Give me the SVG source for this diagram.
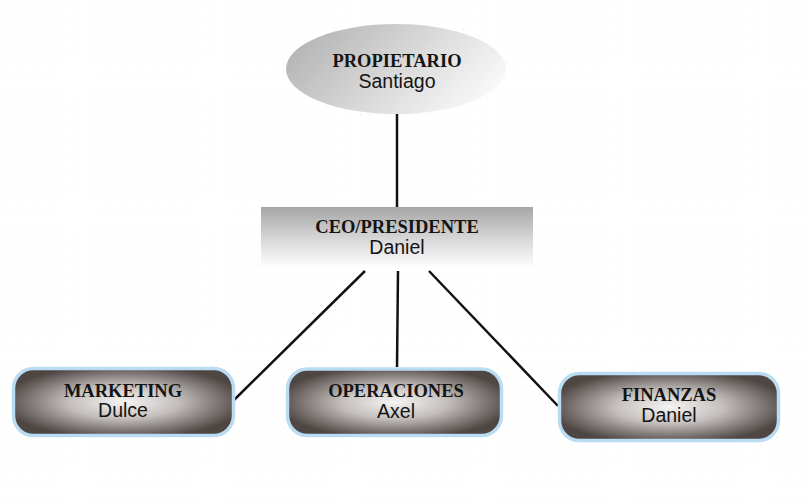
<svg xmlns="http://www.w3.org/2000/svg" width="804" height="499" viewBox="0 0 804 499">
<defs>
<pattern id="dots" width="8.5" height="8.5" patternUnits="userSpaceOnUse">
<rect x="3" y="3" width="1.5" height="1.5" fill="#f3f3f3"/>
</pattern>
<linearGradient id="gEll" x1="0" y1="0.3" x2="1" y2="0.7">
<stop offset="0" stop-color="#b4b4b4"/>
<stop offset="0.55" stop-color="#dcdcdc"/>
<stop offset="1" stop-color="#fbfbfb"/>
</linearGradient>
<linearGradient id="gCeo" x1="0" y1="0" x2="0" y2="1">
<stop offset="0" stop-color="#a6a6a6"/>
<stop offset="0.6" stop-color="#dedede"/>
<stop offset="1" stop-color="#ffffff"/>
</linearGradient>
<radialGradient id="gDept" cx="0.5" cy="0.5" r="0.55">
<stop offset="0" stop-color="#f6f5f4"/>
<stop offset="0.45" stop-color="#c4bfbd"/>
<stop offset="1" stop-color="#4e4643"/>
</radialGradient>
<style>
.t{font-family:"Liberation Serif","DejaVu Serif",serif;font-weight:bold;font-size:18.5px;fill:#141414;text-anchor:middle}
.n{font-family:"Liberation Sans","DejaVu Sans",sans-serif;font-size:19.5px;fill:#141414;text-anchor:middle}
.dept{fill:url(#gDept);stroke:#b9dcf2;stroke-width:3.5}
.c{stroke:#111;stroke-width:2.5;fill:none}
</style>
</defs>
<rect width="804" height="499" fill="#ffffff"/>
<rect width="804" height="499" fill="url(#dots)"/>
<g id="connectors">
<line class="c" x1="397" y1="113" x2="397" y2="207"/>
<line class="c" x1="365" y1="271" x2="233" y2="401"/>
<line class="c" x1="398" y1="271" x2="397" y2="367"/>
<line class="c" x1="429" y1="271" x2="558" y2="406"/>
</g>
<g id="propietario">
<ellipse cx="396" cy="69" rx="110" ry="45" fill="url(#gEll)"/>
<text class="t" x="397" y="67">PROPIETARIO</text>
<text class="n" x="397" y="88">Santiago</text>
</g>
<g id="ceo">
<rect x="261" y="207" width="272" height="61" fill="url(#gCeo)"/>
<text class="t" x="397" y="233">CEO/PRESIDENTE</text>
<text class="n" x="397" y="254">Daniel</text>
</g>
<g id="marketing">
<rect class="dept" x="13.5" y="368.5" width="220" height="67" rx="20"/>
<text class="t" x="123" y="397">MARKETING</text>
<text class="n" x="123" y="417">Dulce</text>
</g>
<g id="operaciones">
<rect class="dept" x="287.5" y="369" width="214" height="66.5" rx="20"/>
<text class="t" x="396" y="397">OPERACIONES</text>
<text class="n" x="396" y="418">Axel</text>
</g>
<g id="finanzas">
<rect class="dept" x="559.5" y="373.5" width="219" height="67" rx="20"/>
<text class="t" x="669" y="401">FINANZAS</text>
<text class="n" x="669" y="422">Daniel</text>
</g>
</svg>
